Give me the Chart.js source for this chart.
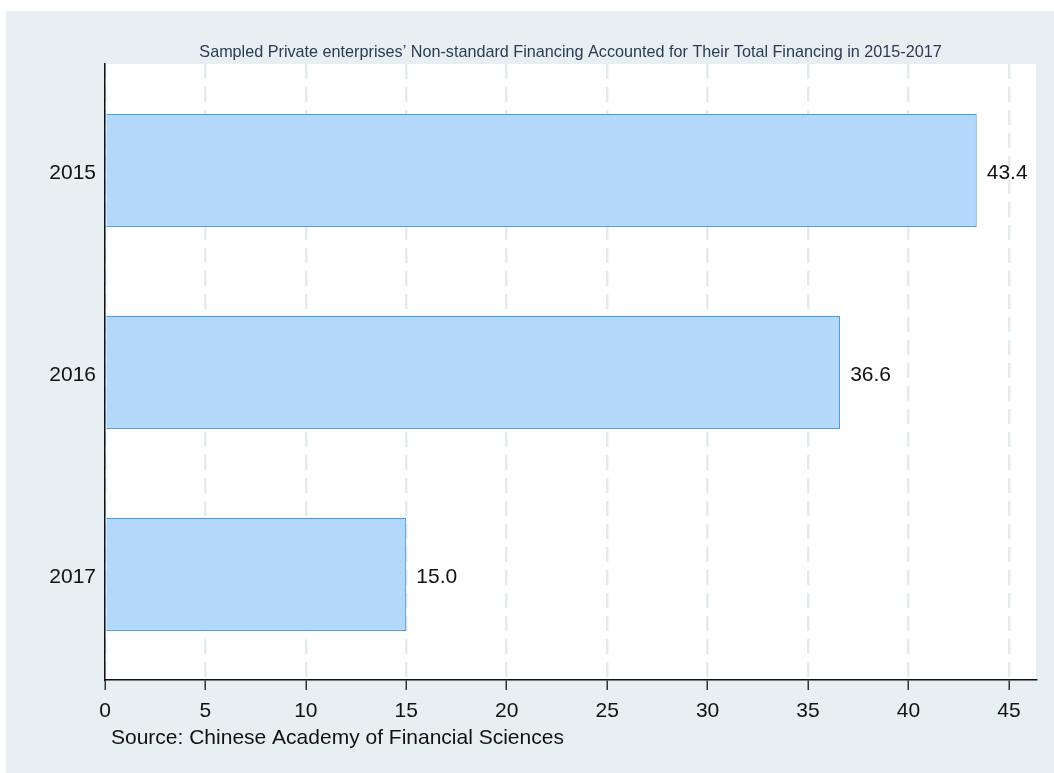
<!DOCTYPE html>
<html>
<head>
<meta charset="utf-8">
<script src="https://cdn.jsdelivr.net/npm/chart.js@4/dist/chart.umd.min.js"></script>
<style>
  html, body { margin: 0; padding: 0; background: #ffffff; }
  #wrap { width: 1054px; height: 773px; position: relative; }
</style>
</head>
<body>
<div id="wrap"><canvas id="c" width="1054" height="773" style="width:1054px;height:773px"></canvas></div>
<script>
// ---- data ----
const categories = ['2015', '2016', '2017'];
const shares = [43.4, 36.6, 15.0];
const xTicks = [0, 5, 10, 15, 20, 25, 30, 35, 40, 45];
const titleText = "Sampled Private enterprises\u2019 Non-standard Financing Accounted for Their Total Financing in 2015-2017";
const sourceText = "Source: Chinese Academy of Financial Sciences";

const FONT = "'Liberation Sans', Arial, Helvetica, sans-serif";
const regionColor = '#e8eff2';

const decorPlugin = {
  id: 'decor',
  beforeDraw(chart) {
    const { ctx, chartArea: a, width, height } = chart;
    ctx.save();
    ctx.fillStyle = '#ffffff';
    ctx.fillRect(0, 0, width, height);
    ctx.fillStyle = regionColor;
    ctx.fillRect(6, 11, width - 6, height - 11);
    ctx.fillStyle = '#ffffff';
    ctx.fillRect(a.left, a.top, a.right - a.left, a.bottom - a.top);
    ctx.restore();
  },
  afterDraw(chart) {
    const { ctx, chartArea: a } = chart;
    ctx.save();
    ctx.fillStyle = '#2b3a55';
    ctx.font = '16.2px ' + FONT;
    ctx.textAlign = 'center';
    ctx.textBaseline = 'middle';
    ctx.fillText(titleText, (a.left + a.right) / 2, a.top - 11);
    ctx.fillStyle = '#111111';
    ctx.font = '21px ' + FONT;
    ctx.textAlign = 'left';
    ctx.fillText(sourceText, a.left + 6, a.bottom + 58);
    ctx.restore();
  }
};

const valueLabels = {
  id: 'valueLabels',
  afterDatasetsDraw(chart) {
    const { ctx } = chart;
    const meta = chart.getDatasetMeta(0);
    ctx.save();
    ctx.fillStyle = '#111111';
    ctx.font = '21px ' + FONT;
    ctx.textAlign = 'left';
    ctx.textBaseline = 'middle';
    meta.data.forEach((bar, i) => {
      ctx.fillText(shares[i].toFixed(1), bar.x + 10, bar.y + 3);
    });
    ctx.restore();
  }
};

new Chart(document.getElementById('c'), {
  type: 'bar',
  data: {
    datasets: [{
      data: shares.map((v, i) => ({ x: v, y: i })),
      backgroundColor: '#b3d8fa',
      borderColor: '#4a9cf0',
      borderWidth: 1.2,
      categoryPercentage: 0.56,
      barPercentage: 1.0
    }]
  },
  options: {
    indexAxis: 'y',
    responsive: false,
    animation: false,
    devicePixelRatio: 1,
    layout: { padding: { left: 0, right: 18, top: 64, bottom: 0 } },
    plugins: { legend: { display: false }, tooltip: { enabled: false }, title: { display: false } },
    scales: {
      x: {
        type: 'linear',
        min: 0,
        max: 46.35,
        afterFit(s) { s.height = 93; },
        afterBuildTicks(s) { s.ticks = xTicks.map(v => ({ value: v })); },
        ticks: { color: '#111111', font: { family: FONT, size: 21 }, padding: 9, maxRotation: 0, autoSkip: false },
        grid: { color: '#e3ebef', lineWidth: 2.5, tickColor: '#333333', tickLength: 10, tickWidth: 1.5 },
        border: { color: '#111111', width: 1.5, dash: [15, 8] }
      },
      y: {
        type: 'linear',
        reverse: true,
        offset: false,
        bounds: 'data',
        min: -0.527,
        max: categories.length - 1 + 0.523,
        afterFit(s) { s.width = 105; },
        afterBuildTicks(s) { s.ticks = categories.map((c, i) => ({ value: i })); },
        ticks: { color: '#111111', font: { family: FONT, size: 21 }, padding: 9, labelOffset: 3, callback: (v) => categories[v] },
        grid: { offset: false, drawOnChartArea: false, drawTicks: false },
        border: { color: '#111111', width: 1.5 }
      }
    }
  },
  plugins: [decorPlugin, valueLabels]
});
</script>
</body>
</html>
